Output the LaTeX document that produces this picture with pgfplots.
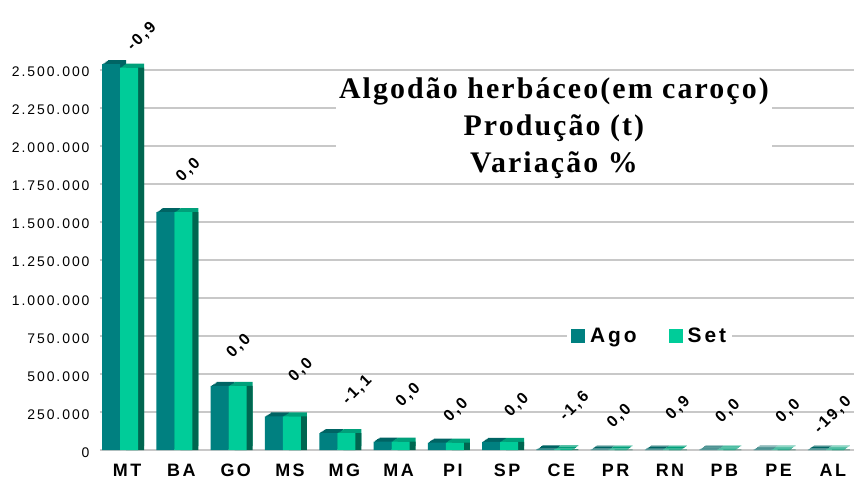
\documentclass[border=0pt]{standalone}
\usepackage{fontspec}
\setmainfont{Liberation Sans}
\newfontfamily\titlefont[LetterSpace=7]{Liberation Serif}
\newfontfamily\spacedsans[LetterSpace=14]{Liberation Sans}
\usepackage{pgfplots}
\pgfplotsset{compat=1.18}
\usepackage{pgfplotstable}
\definecolor{ago}{HTML}{008080}
\definecolor{agotop}{HTML}{006464}
\definecolor{set}{HTML}{00CC99}
\definecolor{settop}{HTML}{00A07A}
\definecolor{setside}{HTML}{006650}
\definecolor{gridgray}{HTML}{C8C8C8}
\pgfplotsset{sqlegend/.style={legend image code/.code={\fill[##1] (0bp,-7bp) rectangle (14bp,7bp);}}}

\pgfplotstableread{
x ago set
0 2540000 2517000
1 1566000 1566000
2 423000 423000
3 222000 222000
4 113000 112000
5 57000 57000
6 50000 50000
7 55000 55000
8 5000 4920
9 4000 4000
10 4500 4540
11 3500 3500
12 3000 3000
13 4000 3240
}\prod

\pgfplotstableread{
x y lab
0.27 2720000 -0,9
1.13 1842000 0,0
2.06 684000 0,0
3.20 526000 0,0
4.24 395000 -1,1
5.18 362000 0,0
6.06 263000 0,0
7.18 296000 0,0
8.24 289000 -1,6
9.07 224000 0,0
10.15 276000 0,9
11.07 257000 0,0
12.18 257000 0,0
13.00 230000 -19,0
}\labs

\begin{document}
\begin{tikzpicture}
\begin{axis}[
  name=ax,
  scale only axis, width=754bp, height=395.2bp,
  xmin=-0.5, xmax=13.39, ymin=0, ymax=2600000,
  clip=false,
  axis line style={draw=none},
  major tick length=0pt,
  ymajorgrids, grid style={line width=1.5bp, color=gridgray},
  scaled y ticks=false,
  xtick={0,1,2,3,4,5,6,7,8,9,10,11,12,13},
  xticklabels={MT,BA,GO,MS,MG,MA,PI,SP,CE,PR,RN,PB,PE,AL},
  ytick={0,250000,500000,750000,1000000,1250000,1500000,1750000,2000000,2250000,2500000},
  yticklabels={0,250.000,500.000,750.000,1.000.000,1.250.000,1.500.000,1.750.000,2.000.000,2.250.000,2.500.000},
  xticklabel style={font=\spacedsans\bfseries\fontsize{18}{20}\selectfont, yshift=-10bp},
  yticklabel style={font=\spacedsans\fontsize{14}{16}\selectfont, xshift=-7bp, yshift=-2bp},
  legend style={at={(rel axis cs:0.729,0.288)}, anchor=center, draw=none, fill=white,
    legend columns=2, font=\spacedsans\bfseries\fontsize{21}{24}\selectfont,
    /tikz/every odd column/.append style={column sep=3bp},
    /tikz/every even column/.append style={column sep=30bp}, inner sep=4bp},
]
\pgfplotsinvokeforeach{0.2,0.4,0.6,0.8,1}{
  \addplot[ybar, bar width=18bp, bar shift=-16bp, fill=agotop, draw=none, forget plot,
    xshift=#1*6bp, yshift=#1*4bp] table[x=x,y=ago]{\prod};
}
\addplot[ybar, bar width=18bp, bar shift=-16bp, fill=ago, draw=none, sqlegend]
  table[x=x,y=ago]{\prod};
\addlegendentry{Ago}
\pgfplotsinvokeforeach{0.2,0.4,0.6,0.8,1}{
  \addplot[ybar, bar width=18bp, bar shift=2bp, fill=settop, draw=none, forget plot,
    xshift=#1*6bp, yshift=#1*4bp] table[x=x,y=set]{\prod};
}
\addplot[ybar, bar width=18bp, bar shift=2bp, fill=setside, draw=none, forget plot,
  xshift=6bp] table[x=x,y=set]{\prod};
\addplot[ybar, bar width=18bp, bar shift=2bp, fill=set, draw=none, sqlegend]
  table[x=x,y=set]{\prod};
\addlegendentry{Set}
\addplot[only marks, mark=none, forget plot, nodes near coords, point meta=explicit symbolic,
  every node near coord/.append style={anchor=center, rotate=45, inner sep=0pt,
    font=\spacedsans\bfseries\fontsize{16}{18}\selectfont}]
  table[x=x,y=y,meta=lab]{\labs};
\node[fill=white, align=center, inner sep=3bp,
  font=\titlefont\bfseries\fontsize{30}{37.5}\selectfont]
  at (rel axis cs:0.602,0.815) {Algodão herbáceo(em caroço)\\Produção (t)\\Variação \%};
\end{axis}
\pgfresetboundingbox
\path[use as bounding box] ([xshift=-100bp,yshift=-31bp]ax.south west) rectangle ([yshift=55bp]ax.north east);
\end{tikzpicture}
\end{document}
